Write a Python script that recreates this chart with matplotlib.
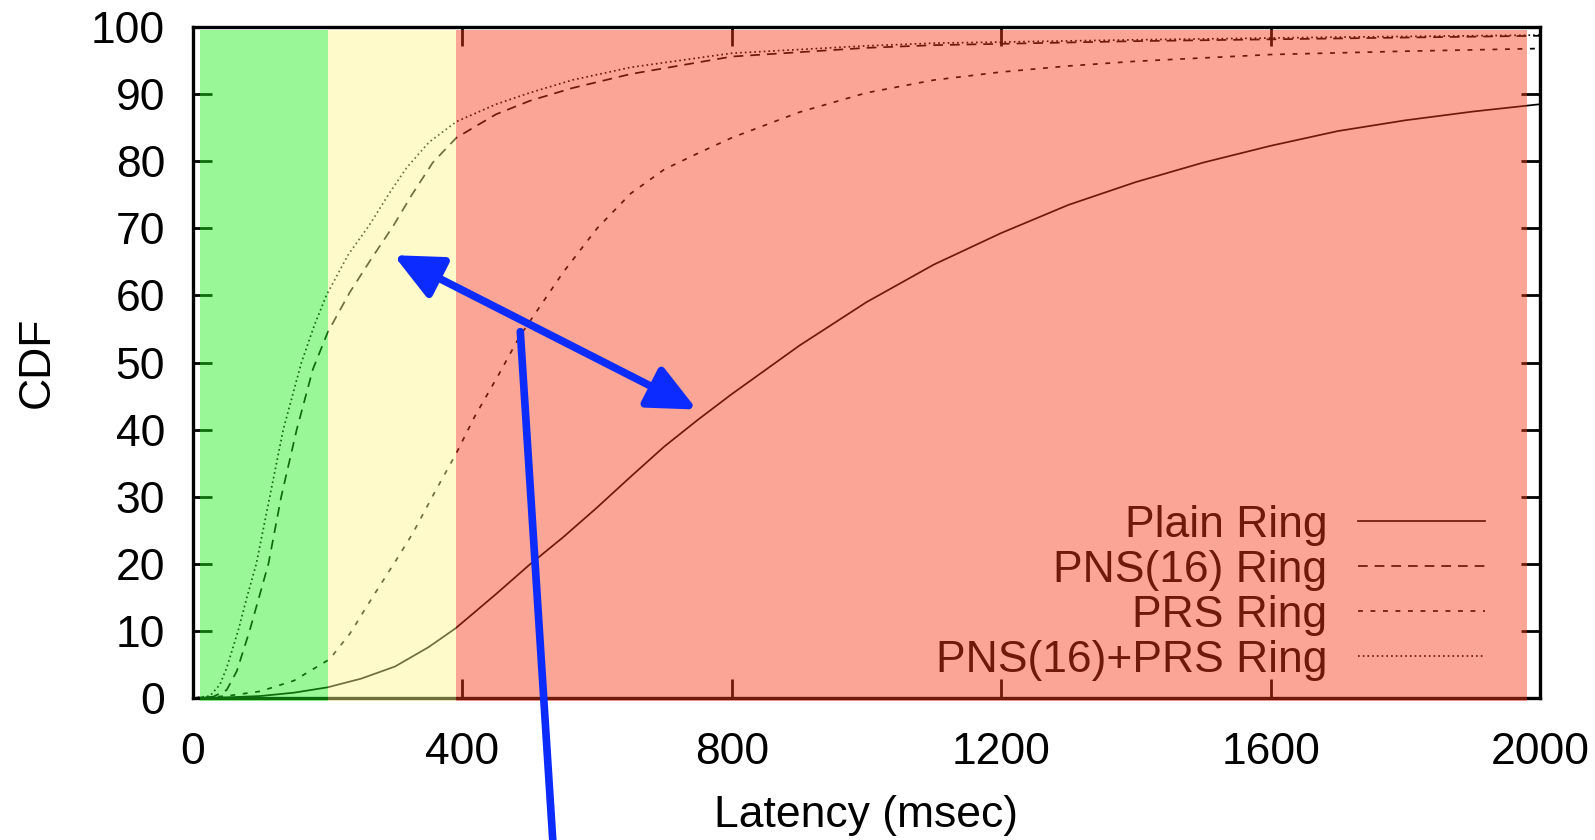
import matplotlib
matplotlib.use('Agg')
import matplotlib.pyplot as plt
from matplotlib.patches import Rectangle
import numpy as np

plt.rcParams['font.family'] = ['Liberation Sans', 'DejaVu Sans']
plt.rcParams['lines.scale_dashes'] = False

# ---------------- data ----------------
plain_x = [0, 50, 100, 150, 200, 250, 300, 350, 390, 450, 500, 550, 600, 650, 700, 750,
           800, 900, 1000, 1100, 1200, 1300, 1400, 1500, 1600, 1700, 1800, 1900, 2000]
plain_y = [0, 0.1, 0.3, 0.8, 1.6, 2.9, 4.7, 7.6, 10.4, 15.5, 19.9, 24.0, 28.4, 33.0, 37.5, 41.5,
           45.3, 52.5, 59.0, 64.6, 69.3, 73.5, 76.9, 79.8, 82.3, 84.5, 86.1, 87.4, 88.5]

pns_x = [0, 30, 50, 65, 84, 112, 131, 154, 178, 200, 233, 265, 297, 325, 356, 391,
         450, 500, 563, 650, 800, 1000, 1100, 1400, 1700, 2000]
pns_y = [0, 0.2, 1.2, 4.0, 10, 20, 30, 40, 49, 54.5, 60.5, 65.5, 70.3, 75, 79.8, 83.5,
         87.0, 89.0, 90.9, 93.0, 95.6, 96.9, 97.3, 97.9, 98.3, 98.7]

prs_x = [0, 50, 100, 150, 203, 233, 267, 302, 326, 358, 391, 418, 455, 485, 550, 600,
         650, 700, 750, 800, 900, 1000, 1100, 1200, 1300, 1400, 1600, 1800, 2000]
prs_y = [0, 0.3, 1.0, 2.6, 5.8, 9.6, 15.1, 20.6, 24.5, 30.5, 36.5, 41.9, 48.4, 53.9, 63.5, 70.0,
         75.2, 78.8, 81.2, 83.5, 87.3, 90.2, 92.1, 93.3, 94.2, 94.9, 95.9, 96.4, 96.8]

both_x = [0, 25, 40, 50, 67, 80, 94, 114, 134, 161, 180, 198, 230, 262, 290, 317, 350, 391,
          450, 500, 563, 650, 800, 1000, 1100, 1400, 1700, 2000]
both_y = [0, 0.3, 2.0, 4.5, 10, 15, 20, 30, 40, 50, 55.5, 60, 66, 70.5, 75, 79, 82.8, 85.9,
          88.5, 90.2, 92.1, 94.0, 96.1, 97.2, 97.6, 98.1, 98.5, 98.8]

series_labels = ['Plain Ring', 'PNS(16) Ring', 'PRS Ring', 'PNS(16)+PRS Ring']

x_ticks = [0, 400, 800, 1200, 1600, 2000]
y_ticks = list(range(0, 101, 10))

# latency bands (msec) and their visible colours over white
band_edges = [10, 200, 390, 1980]
band_colors = ['#9AF898', '#FEFBCB', '#FBA696']
band_alpha = 0.45

# annotation arrows (data coordinates)
arrow_a = (298, 66.0)
arrow_b = (748, 43.0)
pointer_top = (486, 54.6)
pointer_bottom = (536, -24.0)
annot_blue = '#0B2BFF'

# ---------------- figure ----------------
fig = plt.figure(figsize=(15.95, 8.4), dpi=100)
ax = fig.add_axes([0.1210, 0.1690, 0.8445, 0.7988])

styles = ['-', (0, (7, 5)), (0, (3.5, 5.5)), (0, (1.2, 2.2))]
xs = [plain_x, pns_x, prs_x, both_x]
ys = [plain_y, pns_y, prs_y, both_y]
for x, y, ls, lab in zip(xs, ys, styles, series_labels):
    ax.plot(x, y, color='black', lw=1.25, ls=ls, label=lab, zorder=2)

ax.set_xlim(0, 2000)
ax.set_ylim(0, 100)
ax.set_xticks(x_ticks)
ax.set_yticks(y_ticks)
ax.tick_params(direction='in', length=14, width=2.0, top=True, right=True,
               labelsize=32)
ax.tick_params(axis='x', pad=24.5)
ax.tick_params(axis='y', pad=20)
for s in ax.spines.values():
    s.set_linewidth(2.4)

ax.set_xlabel('Latency (msec)', fontsize=32, labelpad=16)
ax.set_ylabel('CDF', fontsize=32, labelpad=24)

leg = ax.legend(loc='lower right', bbox_to_anchor=(0.959, 0.026), frameon=False,
                fontsize=32, markerfirst=False, handlelength=2.86, handletextpad=0.68,
                labelspacing=0.09, borderaxespad=0, borderpad=0)
for line in leg.get_lines():
    line.set_linewidth(1.25)
leg.set_zorder(2.2)

# translucent bands laid over the plot
for (x0, x1), col in zip(zip(band_edges[:-1], band_edges[1:]), band_colors):
    rw = np.array(matplotlib.colors.to_rgb(col))
    c = np.clip((rw - (1 - band_alpha)) / band_alpha, 0, 1)
    ax.add_patch(Rectangle((x0, -0.5), x1 - x0, 100.1, facecolor=c, alpha=band_alpha,
                           edgecolor='none', zorder=3, clip_on=False))

# blue annotations
ax.annotate('', xy=arrow_a, xytext=arrow_b, annotation_clip=False, zorder=10,
            arrowprops=dict(arrowstyle='<|-|>,head_length=2.9,head_width=1.35',
                            mutation_scale=10, color=annot_blue, lw=5.5,
                            shrinkA=0, shrinkB=0))
ax.annotate('', xy=pointer_bottom, xytext=pointer_top, annotation_clip=False, zorder=10,
            arrowprops=dict(arrowstyle='-', color=annot_blue, lw=5.5,
                            shrinkA=0, shrinkB=0))

fig.savefig('out.png', dpi=100)
